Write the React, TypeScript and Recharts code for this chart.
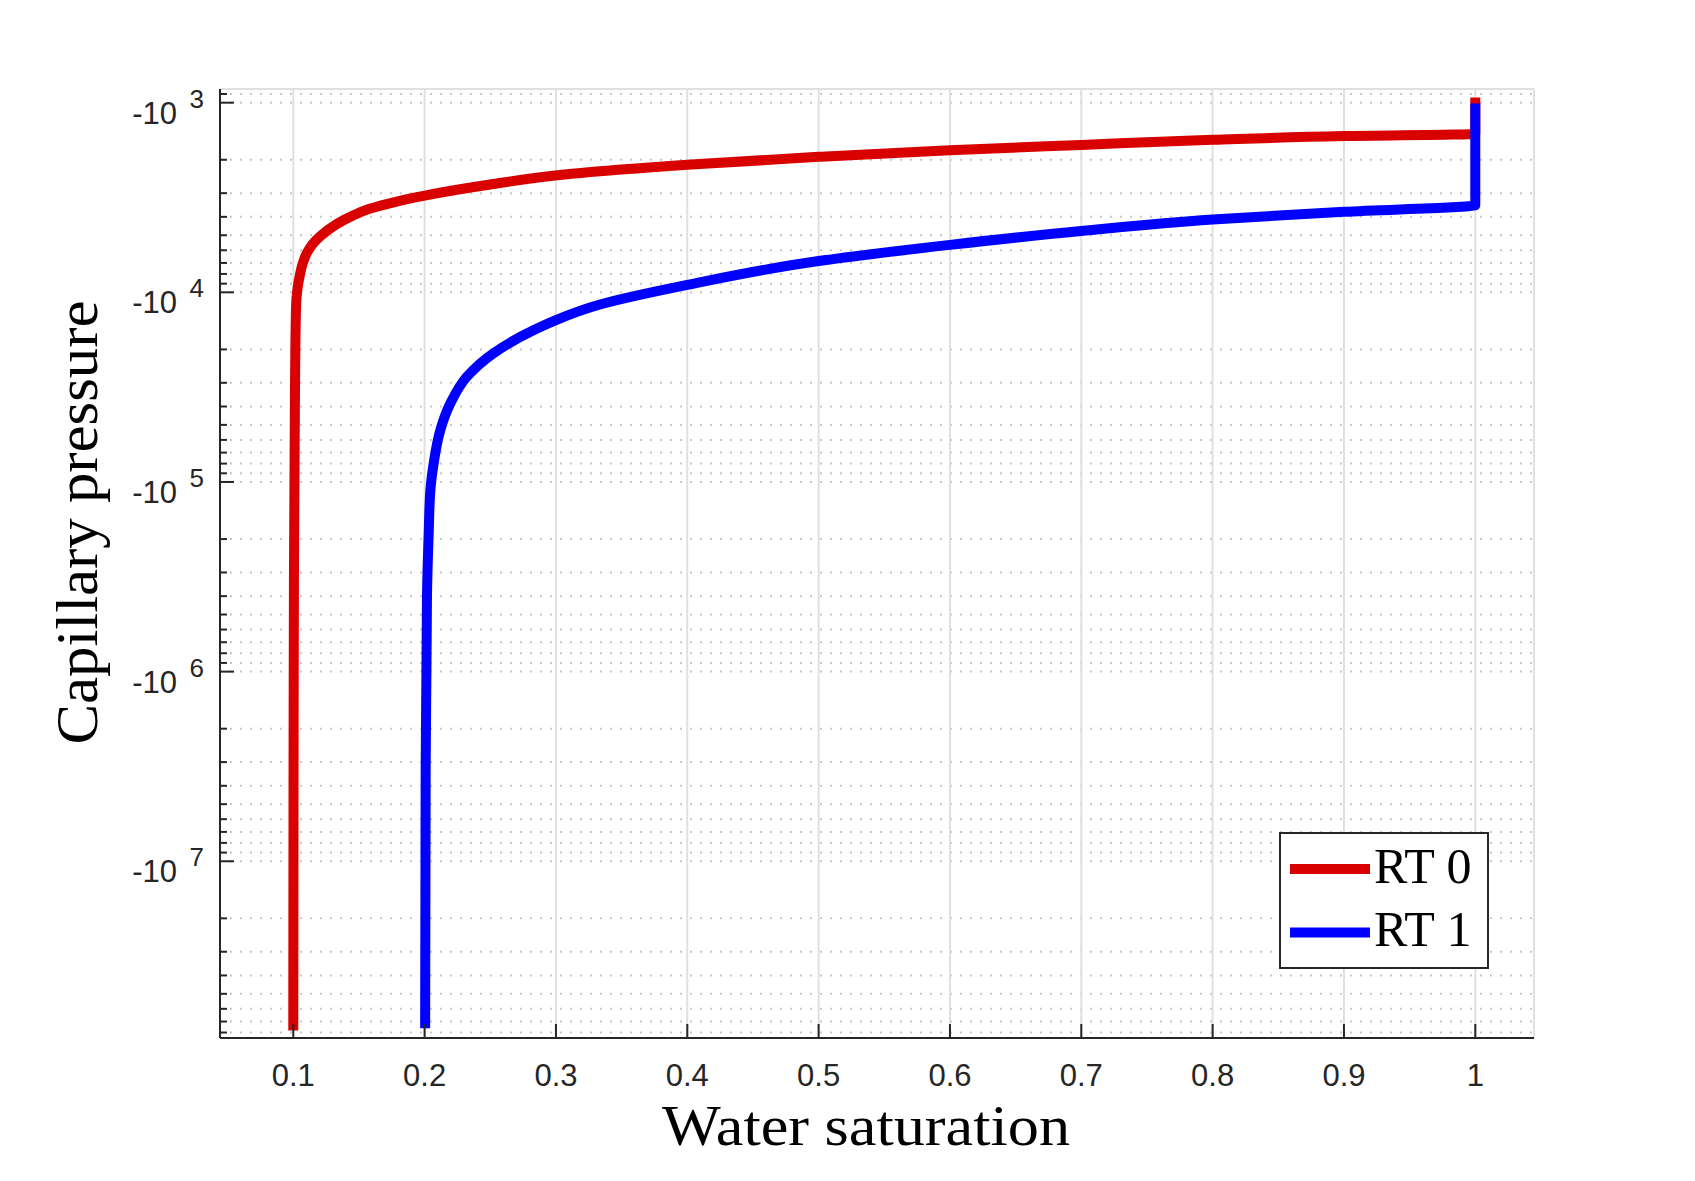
import React from "react";
import { CartesianGrid, Legend, Line, LineChart, XAxis, YAxis } from "recharts";

// layout
const WIDTH = 1695;
const HEIGHT = 1181;
const Y_AXIS_WIDTH = 220;
const X_AXIS_HEIGHT = 143;
const MARGIN = { top: 89, right: 161, bottom: 0, left: 0 };

const AXIS_COLOR = "#262626";
const SANS = "'Liberation Sans', Arial, Helvetica, sans-serif";
const SERIF = "'Liberation Serif', 'Times New Roman', serif";

// axes (pressure axis shows |Pc| on a reversed log scale, labelled as negative)
const SW_DOMAIN = [0.0442, 1.0447];
const PC_DOMAIN = [847, 8.55e7];
const SW_TICKS = [0.1, 0.2, 0.3, 0.4, 0.5, 0.6, 0.7, 0.8, 0.9, 1];
const PC_MAJOR = [1e3, 1e4, 1e5, 1e6, 1e7];
const PC_MINOR_DECADES = [1e2, 1e3, 1e4, 1e5, 1e6, 1e7];
const PC_MINOR_STEPS = [2, 3, 4, 5, 6, 7, 8, 9];
const PC_MINOR = PC_MINOR_DECADES.flatMap((d) => PC_MINOR_STEPS.map((m) => m * d)).filter(
  (v) => v >= PC_DOMAIN[0] && v <= PC_DOMAIN[1],
);
const PC_ALL = [...PC_MAJOR, ...PC_MINOR].sort((a, b) => a - b);

// RT 0
const rt0Sw = [
  0.1, 0.1002, 0.1005, 0.1009, 0.1013, 0.1021, 0.1031, 0.1051, 0.1072, 0.1102, 0.1148, 0.1203,
  0.133, 0.1457, 0.158, 0.1787, 0.2, 0.25, 0.31, 0.4, 0.5, 0.6, 0.7, 0.8, 0.9, 1.0, 1.0,
];
const rt0Pc = [
  -7.8e7, -3.2e6, -3.2e5, -1.0e5, -3.2e4, -1.19e4, -9700, -8040, -7030, -6220, -5560, -5080,
  -4370, -3930, -3630, -3320, -3090, -2700, -2380, -2125, -1930, -1780, -1670, -1570, -1500,
  -1460, -940,
];

// RT 1
const rt1Sw = [
  0.2004, 0.2008, 0.2018, 0.2031, 0.2044, 0.2069, 0.212, 0.2196, 0.2323, 0.2526, 0.2832, 0.3,
  0.3335, 0.4, 0.5, 0.6, 0.7, 0.8, 0.9, 1.0, 1.0,
];
const rt1Pc = [
  -7.6e7, -3.2e6, -4.0e5, -1.86e5, -1.1e5, -7.96e4, -5.31e4, -3.85e4, -2.78e4, -2.09e4, -1.58e4,
  -1.4e4, -1.16e4, -9140, -6840, -5620, -4750, -4130, -3760, -3470, -1010,
];

const rt0 = rt0Sw.map((sw, i) => ({ sw, pc: rt0Pc[i] }));
const rt1 = rt1Sw.map((sw, i) => ({ sw, pc: rt1Pc[i] }));

const magnitude = (d: { pc: number }) => -d.pc;

function BottomTick(props: any) {
  const { x, y, payload } = props;
  return (
    <g>
      <line x1={x} x2={x} y1={y} y2={y - 14} stroke={AXIS_COLOR} strokeWidth={2} />
      <text x={x} y={y + 48} textAnchor="middle" fontFamily={SANS} fontSize={31} fill={AXIS_COLOR}>
        {String(payload.value)}
      </text>
    </g>
  );
}

function TopTick(props: any) {
  const { x, y } = props;
  return <line x1={x} x2={x} y1={y} y2={y + 14} stroke={AXIS_COLOR} strokeWidth={2} />;
}

function LeftTick(props: any) {
  const { x, y, payload } = props;
  const major = PC_MAJOR.includes(payload.value);
  const exp = Math.round(Math.log10(payload.value));
  return (
    <g>
      <line x1={x} x2={x + (major ? 14 : 7)} y1={y} y2={y} stroke={AXIS_COLOR} strokeWidth={2} />
      {major && (
        <>
          <text x={x - 43} y={y + 21} textAnchor="end" fontFamily={SANS} fontSize={31} fill={AXIS_COLOR}>
            -10
          </text>
          <text x={x - 16} y={y + 5} textAnchor="end" fontFamily={SANS} fontSize={26} fill={AXIS_COLOR}>
            {exp}
          </text>
        </>
      )}
    </g>
  );
}

function RightTick(props: any) {
  const { x, y, payload } = props;
  const major = PC_MAJOR.includes(payload.value);
  return <line x1={x} x2={x - (major ? 14 : 7)} y1={y} y2={y} stroke={AXIS_COLOR} strokeWidth={2} />;
}

function YTitle(props: any) {
  const { viewBox } = props;
  const x = viewBox.x + 97;
  const y = viewBox.y + viewBox.height / 2 - 41;
  return (
    <text
      x={x}
      y={y}
      transform={`rotate(-90, ${x}, ${y})`}
      textAnchor="middle"
      fontFamily={SERIF}
      fontSize={60}
      fill="#000"
      textLength={444}
      lengthAdjust="spacingAndGlyphs"
    >
      Capillary pressure
    </text>
  );
}

function XTitle(props: any) {
  const { viewBox } = props;
  const x = viewBox.x + viewBox.width / 2 - 11;
  const y = viewBox.y + 107;
  return (
    <text
      x={x}
      y={y}
      textAnchor="middle"
      fontFamily={SERIF}
      fontSize={58}
      fill="#000"
      textLength={408}
      lengthAdjust="spacingAndGlyphs"
    >
      Water saturation
    </text>
  );
}

function LegendBox(props: any) {
  const items = props.payload ?? [];
  return (
    <div
      style={{
        width: 210,
        height: 137,
        boxSizing: "border-box",
        border: `2px solid ${AXIS_COLOR}`,
        background: "#fff",
      }}
    >
      <svg width={206} height={133} style={{ display: "block" }}>
        {items.map((item: any, i: number) => (
          <g key={item.value}>
            <line x1={9} x2={89} y1={35 + i * 63.4} y2={35 + i * 63.4} stroke={item.color} strokeWidth={10} />
            <text x={93} y={48.5 + i * 63.4} fontFamily={SERIF} fontSize={50} fill="#000">
              {item.value}
            </text>
          </g>
        ))}
      </svg>
    </div>
  );
}

export default function App() {
  return (
    <div style={{ position: "absolute", left: 0, top: 0, background: "#fff" }}>
      <LineChart width={WIDTH} height={HEIGHT} margin={MARGIN}>
        <CartesianGrid
          vertical={false}
          yAxisId="left"
          stroke="#c8c8c8"
          strokeWidth={2}
          strokeDasharray="2 8"
        />
        <CartesianGrid xAxisId="bottom" yAxisId="major" stroke="#e0e0e0" strokeWidth={2} />
        <XAxis
          xAxisId="bottom"
          type="number"
          dataKey="sw"
          domain={SW_DOMAIN}
          allowDataOverflow
          ticks={SW_TICKS}
          interval={0}
          height={X_AXIS_HEIGHT}
          tickSize={0}
          tickMargin={0}
          tickLine={false}
          tick={BottomTick}
          axisLine={{ stroke: AXIS_COLOR, strokeWidth: 2 }}
          label={{ value: "Water saturation", content: XTitle }}
        />
        <XAxis
          xAxisId="top"
          orientation="top"
          type="number"
          dataKey="sw"
          domain={SW_DOMAIN}
          allowDataOverflow
          ticks={SW_TICKS}
          interval={0}
          height={0}
          tickSize={0}
          tickMargin={0}
          tickLine={false}
          tick={TopTick}
          axisLine={{ stroke: AXIS_COLOR, strokeWidth: 2 }}
        />
        <YAxis
          yAxisId="left"
          type="number"
          scale="log"
          reversed
          domain={PC_DOMAIN}
          allowDataOverflow
          ticks={PC_ALL}
          interval={0}
          width={Y_AXIS_WIDTH}
          tickSize={0}
          tickMargin={0}
          tickLine={false}
          tick={LeftTick}
          axisLine={{ stroke: AXIS_COLOR, strokeWidth: 2 }}
          label={{ value: "Capillary pressure", content: YTitle }}
        />
        <YAxis
          yAxisId="major"
          type="number"
          scale="log"
          reversed
          domain={PC_DOMAIN}
          allowDataOverflow
          ticks={PC_MAJOR}
          interval={0}
          width={0}
          tick={false}
          tickLine={false}
          axisLine={false}
        />
        <YAxis
          yAxisId="right"
          orientation="right"
          type="number"
          scale="log"
          reversed
          domain={PC_DOMAIN}
          allowDataOverflow
          ticks={PC_ALL}
          interval={0}
          width={0}
          tickSize={0}
          tickMargin={0}
          tickLine={false}
          tick={RightTick}
          axisLine={{ stroke: AXIS_COLOR, strokeWidth: 2 }}
        />
        <Line
          xAxisId="bottom"
          yAxisId="left"
          data={rt0}
          dataKey={magnitude}
          name="RT 0"
          type="monotoneY"
          stroke="#d90000"
          strokeWidth={10}
          strokeLinejoin="round"
          dot={false}
          activeDot={false}
          isAnimationActive={false}
        />
        <Line
          xAxisId="bottom"
          yAxisId="left"
          data={rt1}
          dataKey={magnitude}
          name="RT 1"
          type="monotoneY"
          stroke="#0000ff"
          strokeWidth={10}
          strokeLinejoin="round"
          dot={false}
          activeDot={false}
          isAnimationActive={false}
        />
        <Legend
          layout="vertical"
          align="center"
          verticalAlign="middle"
          content={LegendBox}
          wrapperStyle={{ position: "absolute", left: 1279, top: 832, width: 210, height: 137 }}
        />
      </LineChart>
    </div>
  );
}
